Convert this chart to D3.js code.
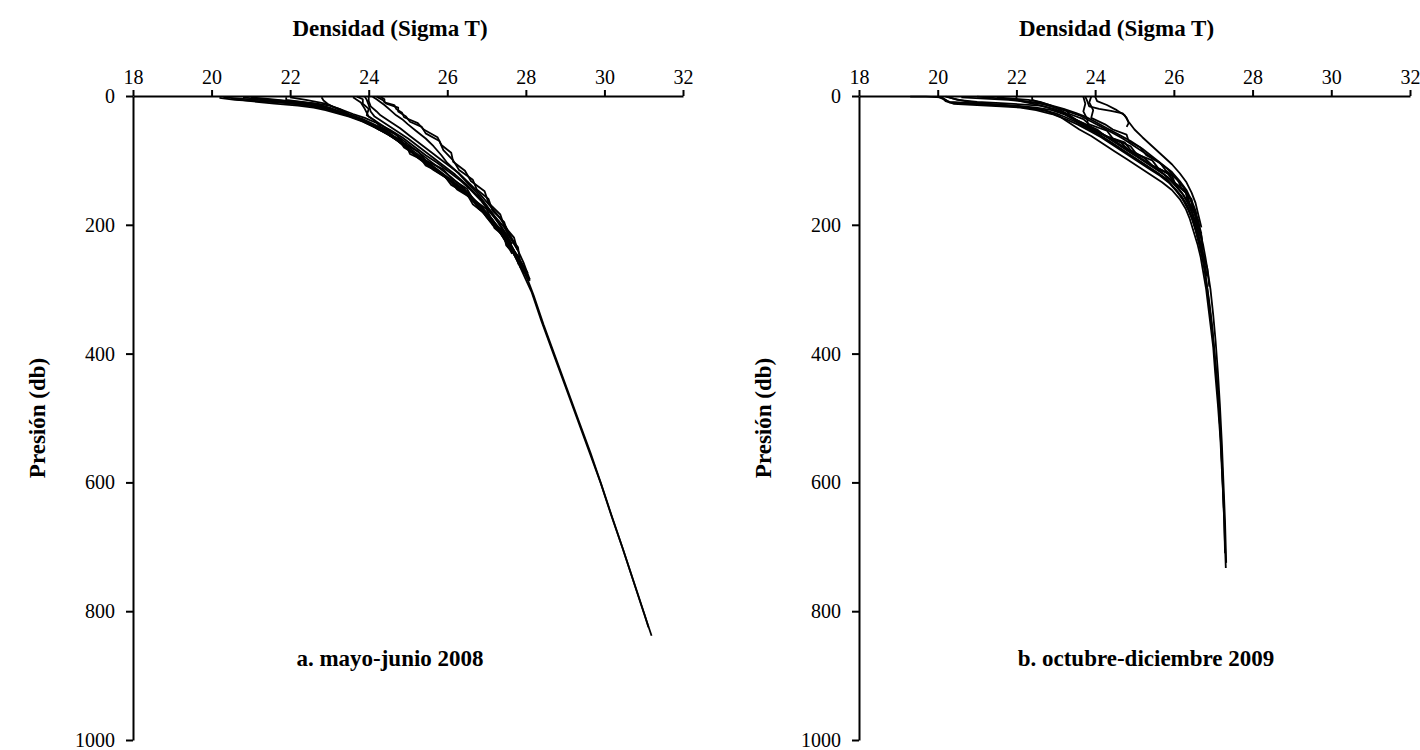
<!DOCTYPE html>
<html>
<head>
<meta charset="utf-8">
<script src="https://cdn.jsdelivr.net/npm/d3@7"></script>
<style>
  body { margin: 0; background: #fff; }
  svg { display: block; }
  .tick text { font-family: "Liberation Serif", serif; font-size: 20px; fill: #000; }
  .lbl { font-family: "Liberation Serif", serif; font-weight: bold; font-size: 23px; fill: #000; }
</style>
</head>
<body>
<svg id="chart" width="1420" height="750"></svg>
<script>
// ticks
var xTicks = [18, 20, 22, 24, 26, 28, 30, 32];
var yTicks = [0, 200, 400, 600, 800, 1000];

// perfiles mayo-junio 2008  [sigma T, presion db]
var a1 = [[20.2,3],[20.6,6],[21.2,8],[21.9,11],[22.5,15],[22.9,20],[23.2,26],[23.5,31],[23.9,40],[24.3,50],[24.55,62],[24.95,75],[25.05,90],[25.4,100],[25.65,115],[26.05,130],[26.25,145],[26.65,160],[26.8,175],[27.1,190],[27.2,205],[27.5,220],[27.55,235],[27.8,250],[27.88,265],[28.1,285]];
var a2 = [[20.3,2],[20.9,5],[21.6,8],[22.3,12],[22.8,17],[23.1,23],[23.35,28],[23.6,33],[24.0,42],[24.25,52],[24.75,66],[24.9,80],[25.3,95],[25.45,108],[25.9,122],[26.1,138],[26.5,152],[26.65,168],[27.0,185],[27.15,200],[27.45,218],[27.5,232],[27.75,248],[27.82,262]];
var a3 = [[20.8,2],[21.1,4],[21.7,7],[22.2,10],[22.7,14],[23.0,19],[23.3,25],[23.55,30],[23.85,37],[24.15,46],[24.5,58],[24.8,70],[25.05,85],[25.3,98],[25.65,112],[26.0,128],[26.3,142],[26.6,158],[26.9,175],[27.15,192],[27.35,208],[27.55,225],[27.7,240],[27.85,255],[28.0,272]];
var a4 = [[21.3,3],[21.3,7],[21.8,10],[22.4,14],[22.9,19],[23.2,25],[23.4,29],[23.7,35],[24.0,43],[24.35,54],[24.65,65],[24.9,78],[25.2,92],[25.5,104],[25.8,118],[26.1,132],[26.4,148],[26.65,163],[26.9,180],[27.1,196],[27.35,212],[27.5,228],[27.65,245]];
var a5 = [[21.9,2],[21.9,6],[22.3,9],[22.7,13],[23.0,18],[23.25,24],[23.45,29],[23.8,38],[24.1,47],[24.45,58],[24.75,70],[25.0,82],[25.25,96],[25.55,110],[25.9,124],[26.2,138],[26.5,152],[26.75,168],[27.0,184],[27.2,200],[27.4,216],[27.6,232],[27.75,248],[27.95,268],[28.1,287]];
var a6 = [[22.8,2],[22.85,7],[22.95,12],[23.1,17],[23.3,23],[23.5,29],[23.75,35],[24.05,44],[24.4,55],[24.7,68],[25.0,82],[25.3,96],[25.6,110],[25.95,126],[26.25,140],[26.55,156],[26.8,172],[27.0,188],[27.25,204],[27.45,222],[27.65,240],[27.8,258],[27.95,275]];
var a7 = [[20.5,4],[21.0,8],[21.6,12],[22.2,15],[22.6,18],[22.9,22],[23.2,27],[23.5,32],[23.85,40],[24.2,50],[24.55,62],[24.9,76],[25.15,90],[25.45,103],[25.8,118],[26.15,134],[26.4,148],[26.7,164],[26.95,180],[27.15,195],[27.4,212],[27.6,230],[27.75,246]];
var a8 = [[21.0,2],[21.5,5],[22.0,8],[22.6,11],[23.0,15],[23.3,21],[23.6,28],[23.9,34],[24.2,42],[24.55,53],[24.85,64],[25.15,78],[25.45,92],[25.75,104],[26.05,118],[26.35,132],[26.6,146],[26.85,162],[27.05,178],[27.3,196],[27.5,214],[27.65,230]];
var b1 = [[23.7,1],[23.85,5],[23.85,12],[24.0,20],[23.95,30],[24.15,38],[24.3,48],[24.7,60],[24.9,74],[25.25,86],[25.45,100],[25.9,114],[26.1,128],[26.5,144],[26.65,160],[27.0,176],[27.15,194],[27.45,212],[27.55,230],[27.8,248],[27.85,265],[28.05,280]];
var b2 = [[23.9,1],[23.95,6],[24.0,14],[24.05,24],[24.15,32],[24.4,42],[24.7,54],[25.0,66],[25.3,80],[25.6,94],[25.9,108],[26.2,122],[26.5,138],[26.75,154],[27.0,170],[27.2,186],[27.45,204],[27.6,220],[27.8,240],[27.95,260],[28.1,285]];
var b3 = [[24.0,1],[24.0,8],[24.05,16],[24.2,24],[24.3,30],[24.5,38],[24.8,50],[25.05,62],[25.35,76],[25.65,90],[25.95,104],[26.3,120],[26.55,135],[26.8,150],[27.05,168],[27.3,186],[27.5,204],[27.65,222],[27.8,240]];
var c1 = [[24.2,1],[24.35,6],[24.45,12],[24.75,18],[24.75,24],[24.95,32],[25.05,40],[25.35,48],[25.45,58],[25.8,70],[25.9,84],[26.15,100],[26.3,115],[26.65,130],[26.75,145],[27.05,160],[27.15,178],[27.45,196],[27.55,215],[27.8,235],[27.85,255],[28.05,275]];
var c2 = [[24.3,1],[24.4,5],[24.4,10],[24.65,14],[24.7,20],[24.85,26],[24.9,33],[25.25,42],[25.4,52],[25.75,64],[25.85,76],[26.1,88],[26.15,102],[26.45,116],[26.6,132],[26.95,148],[27.05,166],[27.35,184],[27.45,202],[27.7,220],[27.78,238]];
var c3 = [[24.1,1],[24.2,5],[24.4,14],[24.55,22],[24.7,30],[24.85,36],[25.0,44],[25.2,54],[25.45,66],[25.65,78],[25.85,92],[26.0,104],[26.25,118],[26.5,134],[26.75,150],[26.95,166],[27.15,184],[27.35,202],[27.55,222],[27.7,240],[27.85,258],[28.0,276]];
var d1 = [[22.0,2],[22.4,6],[22.9,12],[23.25,20],[23.5,28],[23.85,36],[24.2,46],[24.55,58],[24.85,72],[25.15,86],[25.45,100],[25.75,114],[26.05,128],[26.35,142],[26.6,156],[26.85,172],[27.1,190],[27.3,208],[27.5,226],[27.7,246],[27.85,265],[28.0,285],[28.15,305],[28.4,350],[28.7,400],[29.0,450],[29.3,500],[29.6,550],[29.9,600],[30.17,650],[30.45,700],[30.72,750],[30.99,800],[31.2,838]];
var d2 = [[23.6,2],[23.8,10],[23.9,20],[24.0,32],[24.3,44],[24.6,56],[24.9,70],[25.2,84],[25.5,98],[25.8,112],[26.1,126],[26.4,142],[26.65,158],[26.9,174],[27.15,192],[27.35,210],[27.55,228],[27.7,246],[27.9,266],[28.05,286],[28.2,310],[28.45,355],[28.75,405],[29.05,455],[29.35,505],[29.65,555],[29.93,605],[30.2,655],[30.48,705],[30.75,755],[31.02,805],[31.12,825]];
var mayo = [a1, a2, a3, a4, a5, a6, a7, a8, b1, b2, b3, c1, c2, c3, d1, d2];

// perfiles octubre-diciembre 2009
var r1 = [[19.3,1],[19.7,1],[20.1,2],[20.2,6],[20.3,10],[20.8,12],[21.4,14],[21.9,16],[22.4,19],[22.8,24],[23.1,32],[23.35,42],[23.6,52],[23.9,62],[24.2,74],[24.5,86],[24.8,98],[25.1,110],[25.4,122],[25.7,134],[25.95,146],[26.15,160],[26.3,175],[26.4,190],[26.5,210],[26.6,230],[26.68,250],[26.75,275],[26.82,300],[26.9,340],[27.0,390],[27.05,430],[27.12,480],[27.18,530],[27.22,580],[27.26,630],[27.29,680],[27.32,733]];
var r2 = [[20.0,1],[20.15,5],[20.3,9],[20.9,11],[21.5,13],[22.0,15],[22.5,18],[22.9,22],[23.2,28],[23.45,36],[23.7,46],[24.0,56],[24.3,68],[24.6,80],[24.9,92],[25.2,104],[25.5,116],[25.8,128],[26.0,142],[26.2,156],[26.35,172],[26.45,188],[26.55,206],[26.62,224],[26.7,245],[26.78,270],[26.85,300],[26.93,340],[27.0,380],[27.08,430],[27.14,480],[27.2,540],[27.24,600],[27.28,660],[27.3,710]];
var r3 = [[20.1,2],[20.2,8],[20.4,12],[21.0,14],[21.6,16],[22.1,18],[22.5,22],[22.9,28],[23.25,36],[23.55,44],[23.85,54],[24.15,64],[24.45,76],[24.75,88],[25.05,100],[25.35,112],[25.65,124],[25.9,136],[26.1,150],[26.3,166],[26.42,182],[26.52,200],[26.6,218],[26.68,236],[26.75,258],[26.82,285],[26.9,320],[26.98,360],[27.05,410],[27.12,460],[27.18,520],[27.23,580],[27.27,640]];
var r4 = [[20.3,2],[20.5,6],[21.0,9],[21.6,11],[22.1,13],[22.6,15],[22.95,20],[23.2,26],[23.4,34],[23.7,42],[24.05,52],[24.25,62],[24.65,72],[24.85,84],[25.25,96],[25.45,108],[25.85,120],[26.0,134],[26.3,148],[26.37,164],[26.53,180],[26.58,198],[26.7,216],[26.72,234]];
var r5 = [[21.0,1],[21.4,3],[21.8,5],[22.2,8],[22.6,11],[22.9,16],[23.25,22],[23.35,28],[23.7,36],[23.85,44],[24.3,54],[24.45,66],[24.9,78],[25.05,90],[25.45,100],[25.6,112],[25.95,124],[26.05,138],[26.35,152],[26.4,168],[26.55,186],[26.58,204],[26.7,222],[26.74,244],[26.85,268],[26.9,296]];
var r6 = [[22.0,1],[22.0,5],[22.1,8],[22.4,12],[22.7,16],[23.0,22],[23.3,30],[23.55,38],[23.85,48],[24.15,58],[24.45,68],[24.75,80],[25.05,92],[25.35,104],[25.6,114],[25.85,126],[26.05,140],[26.25,154],[26.4,170],[26.5,186],[26.58,204],[26.65,222],[26.72,240],[26.8,262]];
var r7 = [[22.4,1],[22.4,6],[22.6,10],[22.9,15],[23.2,20],[23.5,26],[23.75,32],[24.0,40],[24.3,50],[24.6,60],[24.9,70],[25.2,82],[25.45,94],[25.7,106],[25.95,118],[26.15,132],[26.32,146],[26.45,162],[26.55,178],[26.62,196],[26.7,214]];
var r8 = [[20.6,2],[21.2,4],[21.8,6],[22.3,9],[22.7,13],[23.0,18],[23.3,24],[23.6,30],[23.85,38],[24.1,46],[24.4,56],[24.7,66],[25.0,78],[25.3,90],[25.6,102],[25.85,114],[26.05,128],[26.25,142],[26.4,158],[26.5,174],[26.58,192],[26.66,210],[26.74,230],[26.8,250],[26.86,272],[26.93,300],[27.0,340],[27.06,380],[27.12,430],[27.17,480],[27.22,540],[27.26,600],[27.3,660],[27.33,725]];
var r9 = [[21.5,2],[21.9,4],[22.3,6],[22.6,9],[22.85,14],[23.05,20],[23.3,28],[23.5,36],[23.7,44],[23.95,52],[24.25,62],[24.55,74],[24.85,86],[25.15,98],[25.45,110],[25.75,122],[26.0,136],[26.2,150],[26.35,166],[26.46,182],[26.55,200],[26.63,218],[26.7,236],[26.77,256],[26.84,280]];
var r10 = [[20.2,1],[20.4,4],[20.7,8],[21.2,12],[21.8,15],[22.3,18],[22.7,22],[23.0,27],[23.25,33],[23.5,40],[23.8,50],[24.1,60],[24.4,72],[24.7,84],[25.0,96],[25.3,108],[25.6,120],[25.85,132],[26.05,146],[26.22,160],[26.36,176],[26.47,192],[26.56,210],[26.64,228],[26.7,244]];
var rb1 = [[23.75,1],[23.8,8],[23.85,16],[24.1,20],[24.4,23],[24.7,27],[24.8,34],[24.85,42],[24.8,48]];
var rb2 = [[23.7,1],[23.75,12],[23.7,24],[23.8,36],[23.82,48],[24.15,58],[24.35,64],[24.75,72],[24.9,84],[25.25,96],[25.45,108],[25.85,120],[26.0,134],[26.3,148],[26.35,164],[26.55,180],[26.57,200],[26.7,218],[26.73,236]];
var rb3 = [[23.9,1],[23.85,10],[23.95,22],[23.9,34],[24.25,44],[24.45,52],[24.8,60],[24.85,70],[25.15,80],[25.3,92],[25.65,104],[25.8,116],[26.1,130],[26.2,144],[26.45,160],[26.48,176],[26.63,194],[26.66,212]];
var rb4 = [[24.0,1],[24.05,8],[24.3,14],[24.55,22],[24.75,30],[24.85,40],[25.0,52],[25.2,64],[25.45,78],[25.7,92],[25.95,106],[26.15,120],[26.32,134],[26.45,150],[26.55,166],[26.62,184],[26.7,204]];
var octubre = [r1, r2, r3, r4, r5, r6, r7, r8, r9, r10, rb1, rb2, rb3, rb4];

var svg = d3.select("#chart");

function panel(x0, x1, profiles, label, labelX) {
    var x = d3.scaleLinear().domain([18, 32]).range([x0, x1]),
        y = d3.scaleLinear().domain([0, 1000]).range([96, 740]);

    var g = svg.append("g");

    var line = d3.line()
        .x(function(d) { return x(d[0]); })
        .y(function(d) { return y(d[1]); });

    g.selectAll(".perfil")
     .data(profiles)
     .enter().append("path")
     .attr("class", "perfil")
     .attr("d", line)
     .attr("fill", "none")
     .attr("stroke", "#000")
     .attr("stroke-width", 1.8)
     .attr("stroke-linejoin", "round");

    var ax = g.append("g")
     .attr("transform", "translate(0,96)")
     .call(d3.axisTop(x).tickValues(xTicks).tickSize(6).tickSizeOuter(0).tickPadding(6));
    var ay = g.append("g")
     .attr("transform", "translate(" + x0 + ",0)")
     .call(d3.axisLeft(y).tickValues(yTicks).tickFormat(d3.format("d")).tickSize(7).tickSizeOuter(0).tickPadding(11));
    [ax, ay].forEach(function(a) {
        a.selectAll("path, line").attr("stroke", "#000").attr("stroke-width", 2);
    });

    // titulo del eje x
    g.append("text")
     .attr("class", "lbl")
     .attr("x", (x0 + x1) / 2 - 18)
     .attr("y", 36)
     .attr("text-anchor", "middle")
     .text("Densidad (Sigma T)");

    g.append("text")
     .attr("class", "lbl")
     .attr("transform", "translate(" + (x0 - 88) + ",418) rotate(-90)")
     .attr("text-anchor", "middle")
     .text("Presión (db)");

    g.append("text")
     .attr("class", "lbl")
     .attr("x", labelX)
     .attr("y", 666)
     .attr("text-anchor", "middle")
     .text(label);
}

panel(133, 683, mayo, "a. mayo-junio 2008", 390);
panel(859, 1410, octubre, "b. octubre-diciembre 2009", 1146);
</script>
</body>
</html>
